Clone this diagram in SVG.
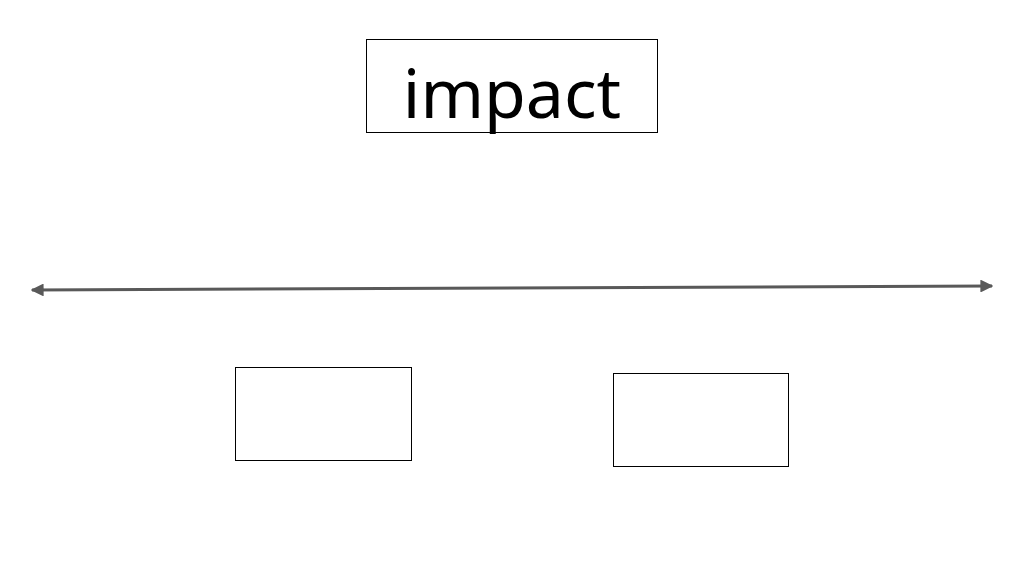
<svg xmlns="http://www.w3.org/2000/svg" width="1024" height="576" viewBox="0 0 1024 576">
<style>
.box{fill:#fff;stroke:#000;stroke-width:1}
.lbl{font-family:"Noto Sans","Open Sans","DejaVu Sans",sans-serif;font-size:68px;fill:#000;text-anchor:middle}
.conn{stroke:#595959;stroke-width:3;fill:none}
</style>
<defs>
<marker id="ah" viewBox="0 0 10 10" refX="9" refY="5" markerWidth="4.3" markerHeight="4.3" orient="auto-start-reverse" markerUnits="strokeWidth">
<path d="M0,0 L10,5 L0,10 Z" fill="#595959"/>
</marker>
</defs>
<rect width="1024" height="576" fill="#fff"/>
<g id="node-impact">
<rect class="box" x="366.5" y="39.5" width="291" height="93" stroke="#444"/>
<text class="lbl" x="512" y="118">impact</text>
</g>
<g id="node-left">
<rect class="box" x="235.5" y="367.5" width="176" height="93"/>
</g>
<g id="node-right">
<rect class="box" x="613.5" y="373.5" width="175" height="93"/>
</g>
<g id="connectors">
<line class="conn" x1="32" y1="290" x2="992" y2="286" marker-start="url(#ah)" marker-end="url(#ah)"/>
</g>
</svg>
